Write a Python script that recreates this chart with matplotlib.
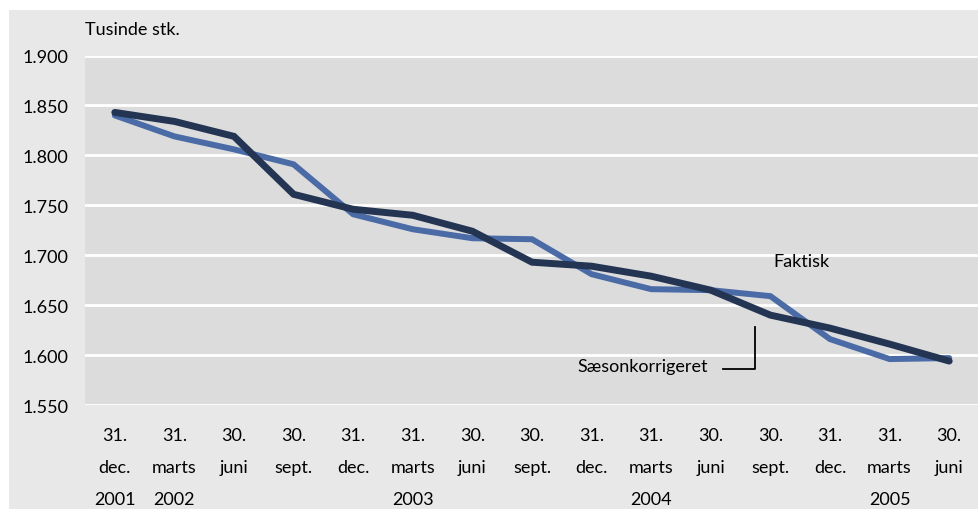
import matplotlib.pyplot as plt
from matplotlib.patches import Rectangle
from matplotlib.ticker import FuncFormatter, MultipleLocator

# Danish car stock, thousands
dates = ["31.\ndec.\n2001", "31.\nmarts\n2002", "30.\njuni", "30.\nsept.", "31.\ndec.",
         "31.\nmarts\n2003", "30.\njuni", "30.\nsept.", "31.\ndec.",
         "31.\nmarts\n2004", "30.\njuni", "30.\nsept.", "31.\ndec.",
         "31.\nmarts\n2005", "30.\njuni"]
faktisk = [1840, 1819, 1806, 1791, 1741, 1726, 1717, 1716, 1681,
           1666, 1665, 1659, 1616, 1596, 1597]
saeson = [1843, 1834, 1819, 1761, 1746, 1740, 1724, 1693, 1689,
          1679, 1665, 1640, 1627, 1611, 1594]

plt.rcParams['font.family'] = ['Lato', 'DejaVu Sans']

fig = plt.figure(figsize=(9.79, 5.10), dpi=100)
fig.patch.set_facecolor("white")
fig.add_artist(Rectangle((9 / 979, 0), 1, 1 - 11 / 510, transform=fig.transFigure,
                         facecolor="#e8e8e8", edgecolor="none", zorder=-10))

ax = fig.add_axes([85 / 979, 104 / 510, 1 - 85 / 979, 349.5 / 510])
ax.set_zorder(1)
ax.set_facecolor("#dcdcdc")

x = list(range(len(dates)))
ax.plot(x, faktisk, color="#4a6ba6", lw=4.3, solid_capstyle="round", solid_joinstyle="miter", zorder=3)
ax.plot(x, saeson, color="#243553", lw=5.0, solid_capstyle="round", solid_joinstyle="miter", zorder=4)

ax.set_xlim(-0.5, len(dates) - 0.5)
ax.set_ylim(1550, 1900)
ax.yaxis.set_major_locator(MultipleLocator(50))
ax.yaxis.set_major_formatter(FuncFormatter(lambda v, p: f"{v / 1000:.3f}"))
ax.grid(axis="y", color="white", lw=2, zorder=1)
ax.set_axisbelow(True)
for s in ax.spines.values():
    s.set_visible(False)

ax.set_xticks(x)
ax.set_xticklabels(dates, fontsize=13, linespacing=2.25)
ax.tick_params(axis="x", length=0, pad=15.5)
ax.tick_params(axis="y", length=0, pad=12, labelsize=13)

fig.text(85 / 979, 1 - 30 / 510, "Tusinde stk.", fontsize=13, va="center", ha="left")

ax.text(11.05, 1694, "Faktisk", fontsize=13, va="center", ha="left")
ax.text(7.76, 1589, "Sæsonkorrigeret", fontsize=13, va="center", ha="left")
ax.plot([10.2, 10.74, 10.74], [1586, 1586, 1628], color="black", lw=1.3, zorder=5)

fig.savefig("out.png", dpi=100)
